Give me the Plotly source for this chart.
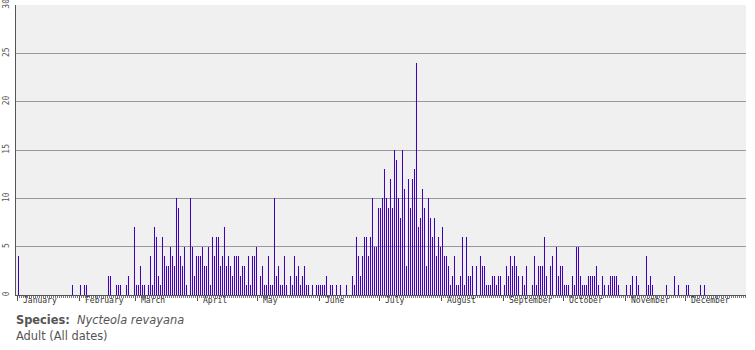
import plotly.graph_objects as go

# day-of-year (0 = Jan 1) with non-zero counts, and the counts
days = [0, 27, 31, 33, 34, 45, 46, 49, 50, 51, 54, 55, 58, 59, 60, 61, 62, 63, 65, 66, 67, 68, 69, 70, 71, 72, 73, 74, 75, 76, 77, 78, 79, 80, 81, 82, 83, 84,
        86, 87, 88, 89, 90, 91, 92, 93, 94, 95, 96, 97, 98, 99, 100, 101, 102, 103, 104, 105, 106, 107, 108, 109, 110, 111, 112, 113, 114, 115, 116, 117, 118, 119,
        121, 122, 123, 124, 125, 126, 127, 128, 129, 130, 131, 132, 133, 134, 136, 137, 138, 139, 140, 141, 142, 143, 144, 145, 147, 149, 150, 151, 152, 153, 154,
        156, 157, 159, 161, 164, 167, 168, 169, 170, 171, 172, 173, 174, 175, 176, 177, 178, 179, 180, 181, 182, 183, 184, 185, 186, 187, 188, 189, 190, 191, 192,
        193, 194, 195, 196, 197, 198, 199, 200, 201, 202, 203, 204, 205, 206, 207, 208, 209, 210, 211, 212, 213, 214, 215, 216, 217, 218, 219, 220, 221, 222, 223,
        224, 225, 226, 227, 229, 231, 232, 233, 234, 235, 236, 237, 238, 239, 240, 241, 243, 244, 245, 246, 247, 248, 249, 250, 252, 253, 254, 257, 258, 259, 260,
        261, 262, 263, 264, 266, 267, 269, 270, 271, 272, 273, 274, 275, 277, 278, 279, 280, 281, 282, 283, 284, 285, 286, 287, 288, 289, 290, 292, 293, 295, 296,
        297, 298, 299, 300, 304, 306, 307, 309, 310, 314, 315, 316, 317, 324, 328, 330, 334, 335, 341, 343]
counts = [4, 1, 1, 1, 1, 2, 2, 1, 1, 1, 1, 2, 7, 1, 1, 3, 1, 1, 1, 4, 1, 7, 6, 2, 1, 6, 4, 3, 3, 5, 4, 3, 10, 9, 4, 3, 5, 1,
          10, 5, 2, 4, 4, 4, 5, 3, 3, 5, 1, 6, 4, 6, 6, 3, 4, 7, 3, 4, 3, 2, 4, 4, 4, 2, 3, 3, 1, 4, 1, 4, 4, 5,
          2, 3, 1, 1, 4, 1, 1, 10, 2, 3, 1, 1, 4, 1, 2, 1, 4, 2, 3, 1, 2, 3, 1, 1, 1, 1, 1, 1, 1, 1, 2,
          1, 1, 1, 1, 1, 2, 1, 6, 4, 2, 4, 6, 6, 4, 6, 10, 5, 5, 9, 9, 10, 13, 10, 9, 12, 9, 15, 14, 10, 8, 15,
          11, 3, 12, 9, 12, 13, 24, 7, 8, 11, 9, 3, 10, 8, 6, 8, 4, 6, 5, 7, 4, 4, 3, 1, 2, 4, 1, 1, 2, 6, 1,
          6, 2, 2, 3, 3, 4, 3, 3, 1, 1, 1, 2, 2, 1, 2, 2, 1, 3, 2, 4, 3, 4, 3, 2, 2, 1, 3, 1, 4, 1, 3,
          3, 3, 6, 2, 3, 4, 5, 2, 3, 3, 1, 1, 1, 2, 1, 5, 5, 2, 1, 1, 1, 2, 2, 2, 2, 3, 1, 2, 1, 1, 2,
          2, 2, 2, 1, 1, 1, 2, 2, 1, 4, 1, 2, 1, 1, 2, 1, 1, 1, 1, 1]

month_names = ["January", "February", "March", "April", "May", "June", "July",
               "August", "September", "October", "November", "December"]
month_starts = [0, 31, 59, 90, 120, 151, 181, 212, 243, 273, 304, 334]
y_ticks = [0, 5, 10, 15, 20, 25, 30]

fig = go.Figure()
fig.add_trace(go.Bar(x=days, y=counts, width=0.6,
                     marker=dict(color="#4400bb", line=dict(width=0.02, color="#4400bb")),
                     hoverinfo="x+y"))

annotations = []
for name, start in zip(month_names, month_starts):
    annotations.append(dict(x=start + 1.4, y=-0.018, xref="x", yref="paper",
                            text=name, showarrow=False, xanchor="left", yanchor="middle",
                            font=dict(family="DejaVu Sans Mono", size=8, color="#333")))
annotations.append(dict(x=-0.003, y=-0.087, xref="paper", yref="paper",
                        text="<b>Species:</b>  <i>Nycteola revayana</i>", showarrow=False,
                        xanchor="left", yanchor="middle",
                        font=dict(family="DejaVu Sans", size=11.4, color="#555")))
annotations.append(dict(x=-0.003, y=-0.14, xref="paper", yref="paper",
                        text="Adult (All dates)", showarrow=False,
                        xanchor="left", yanchor="middle",
                        font=dict(family="DejaVu Sans", size=11.4, color="#555")))

fig.update_layout(
    width=755, height=350,
    margin=dict(l=16, r=9, t=5, b=55, autoexpand=False),
    paper_bgcolor="white", plot_bgcolor="#f0f0f0",
    showlegend=False, bargap=0, bargroupgap=0,
    annotations=annotations,
    xaxis=dict(range=[-1.25, 363.75], showgrid=False, zeroline=False, automargin=False,
               showline=True, linecolor="#555", linewidth=1,
               tickvals=[m - 0.75 for m in month_starts], ticktext=[""] * 12,
               ticks="outside", ticklen=5, tickcolor="#555", tickwidth=1,
               minor=dict(dtick=1, tick0=-0.75, ticks="outside", ticklen=2, tickcolor="#777", tickwidth=1)),
    yaxis=dict(range=[0, 30], tickvals=y_ticks, showgrid=True, gridcolor="#999", gridwidth=1,
               zeroline=False, showline=True, linecolor="#555", linewidth=1, automargin=False,
               tickangle=-90, ticks="", ticklabelstandoff=3, ticklabeloverflow="allow",
               tickfont=dict(family="DejaVu Sans Mono", size=8, color="#555")),
)

fig.write_html("out.html")
